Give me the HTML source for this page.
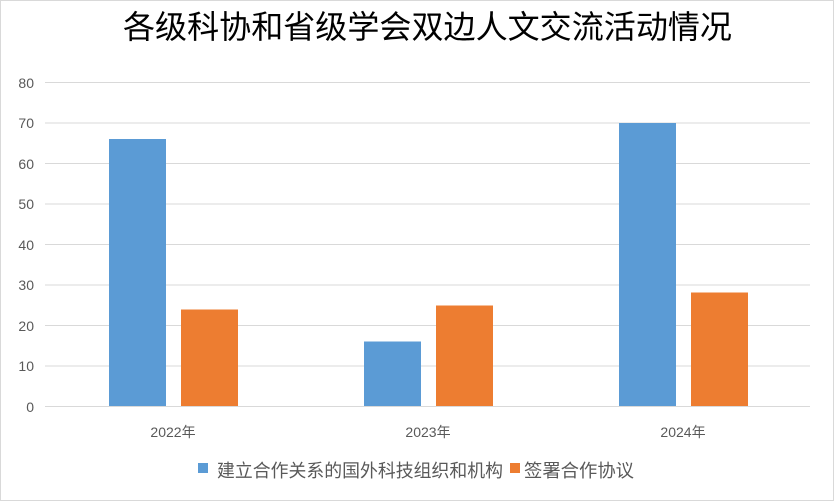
<!DOCTYPE html>
<html><head><meta charset="utf-8"><style>
html,body{margin:0;padding:0;background:#fff;}
</style></head><body>
<svg width="834" height="501" xmlns="http://www.w3.org/2000/svg" style="display:block">
<rect x="0.5" y="0.5" width="833" height="500" fill="#fff" stroke="#d9d9d9"/>
<text x="123" y="38" textLength="609" lengthAdjust="spacingAndGlyphs" font-family="'Noto Sans CJK SC','WenQuanYi Zen Hei',sans-serif" font-size="32" fill="#000">各级科协和省级学会双边人文交流活动情况</text>
<g stroke="#d9d9d9" stroke-width="1">
<line x1="45" y1="82.5" x2="810" y2="82.5"/>
<line x1="45" y1="123" x2="810" y2="123"/>
<line x1="45" y1="163.5" x2="810" y2="163.5"/>
<line x1="45" y1="204" x2="810" y2="204"/>
<line x1="45" y1="244.5" x2="810" y2="244.5"/>
<line x1="45" y1="285" x2="810" y2="285"/>
<line x1="45" y1="325.5" x2="810" y2="325.5"/>
<line x1="45" y1="366" x2="810" y2="366"/>
<line x1="45" y1="406.5" x2="810" y2="406.5"/>
</g>
<g font-family="'Liberation Sans',sans-serif" font-size="14" fill="#595959" text-anchor="end">
<text x="34" y="88">80</text><text x="34" y="128">70</text><text x="34" y="169">60</text>
<text x="34" y="209">50</text><text x="34" y="250">40</text><text x="34" y="290">30</text>
<text x="34" y="331">20</text><text x="34" y="371">10</text><text x="34" y="412">0</text>
</g>
<g fill="#5b9bd5">
<rect x="109" y="139" width="57" height="267"/>
<rect x="364" y="341.5" width="57" height="64.5"/>
<rect x="619" y="123" width="57" height="283"/>
</g>
<g fill="#ed7d31">
<rect x="181" y="309.5" width="57" height="96.5"/>
<rect x="436" y="305.5" width="57" height="100.5"/>
<rect x="691" y="292.5" width="57" height="113.5"/>
</g>
<g font-family="'Liberation Sans','Noto Sans CJK SC',sans-serif" font-size="14" fill="#595959" text-anchor="middle">
<text x="173" y="437">2022年</text><text x="428" y="437">2023年</text><text x="683" y="437">2024年</text>
</g>
<rect x="198" y="463" width="10" height="10" fill="#5b9bd5"/>
<rect x="510" y="463" width="10" height="10" fill="#ed7d31"/>
<g font-family="'Noto Sans CJK SC',sans-serif" font-size="18" fill="#595959">
<text x="217" y="477" textLength="286" lengthAdjust="spacingAndGlyphs">建立合作关系的国外科技组织和机构</text>
<text x="524" y="477" textLength="110" lengthAdjust="spacingAndGlyphs">签署合作协议</text>
</g>
</svg>
</body></html>
